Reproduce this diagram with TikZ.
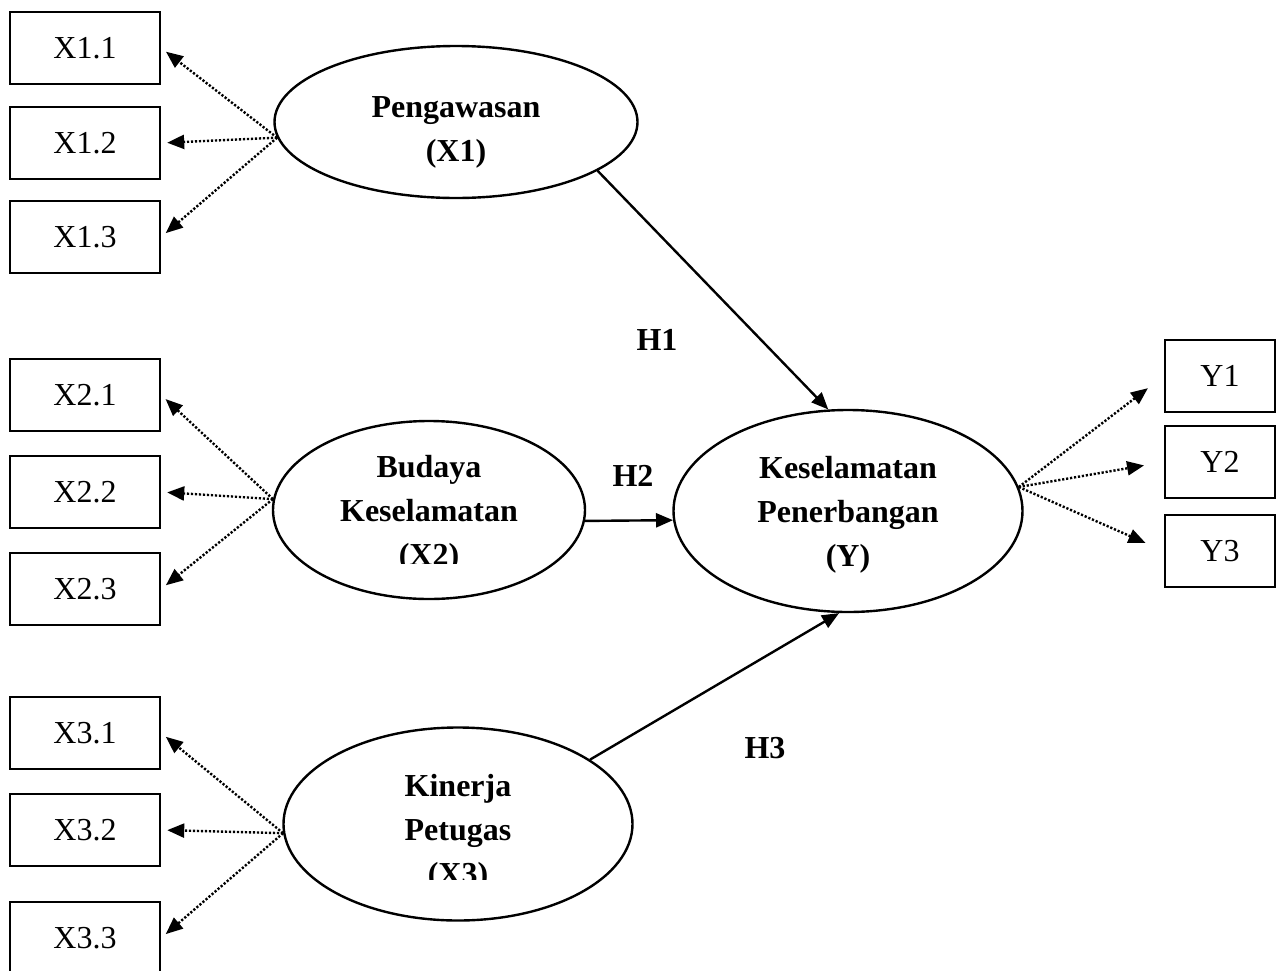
\documentclass[tikz,border=0pt]{standalone}
\usepackage{fontspec}
\setmainfont{Liberation Serif}
\usetikzlibrary{arrows.meta,shapes.geometric}

\tikzset{
    indicator/.style={draw, line width=1.2pt, minimum width=75pt, minimum height=36pt,
        inner sep=0pt, font=\fontsize{16}{19}\selectfont},
    latent/.style={draw, ellipse, line width=1.2pt, inner sep=0pt},
    lattext/.style={align=center, font=\fontsize{16}{22}\selectfont\bfseries},
    hyp/.style={font=\fontsize{16}{19}\selectfont\bfseries},
    effect/.style={-{Triangle[length=8.5pt,width=7pt]}, line width=1.2pt},
    loading/.style={-{Triangle[length=8.5pt,width=7pt]}, line width=1.2pt,
        dash pattern=on 1.1pt off 0.9pt, shorten >=3pt},
}

\begin{document}
\begin{tikzpicture}[x=0.5pt,y=-0.5pt]
        \useasboundingbox (0,0) rectangle (1280,970);

        % indicators
        \foreach \i/\y in {1/48,2/143,3/237}
            \node[indicator] (x1\i) at (85,\y) {X1.\i};
        \foreach \i/\y in {1/395,2/492,3/589}
            \node[indicator] (x2\i) at (85,\y) {X2.\i};
        \foreach \i/\y in {1/733,2/830,3/938}
            \node[indicator] (x3\i) at (85,\y) {X3.\i};
        \foreach \i/\y in {1/376,2/462,3/551}
            \node[indicator, minimum width=55pt] (y\i) at (1220,\y) {Y\i};

        % latent variables
        \node[latent, minimum width=181.5pt, minimum height=76pt] (peng) at (456,122) {};
        \node[latent, minimum width=156pt, minimum height=89pt] (bud) at (429,510) {};
        \node[latent, minimum width=174.5pt, minimum height=96.5pt] (kin) at (458,824) {};
        \node[latent, minimum width=174.5pt, minimum height=101pt] (kes) at (848,511) {};

        \node[lattext] (peng-t) at (456,132) {Pengawasan\\(X1)};
        \begin{scope}
            \clip (273,421) rectangle (585,563);
            \node[lattext] (bud-t) at (429,514) {Budaya\\Keselamatan\\(X2)};
        \end{scope}
        \begin{scope}
            \clip (283,727) rectangle (632,879);
            \node[lattext] (kin-t) at (458,833) {Kinerja\\Petugas\\(X3)};
        \end{scope}
        \node[lattext] (kes-t) at (848,515) {Keselamatan\\Penerbangan\\(Y)};

        % loadings
        \foreach \i in {1,2,3} {
            \draw[loading] (peng.185) -- (x1\i.east);
            \draw[loading] (bud.176) -- (x2\i.east);
            \draw[loading] (kin.183) -- (x3\i.east);
            \draw[loading, shorten >=10pt] (kes.8) -- (y\i.west);
        }

        % hypotheses
        \draw[effect] (peng.-19) -- (kes.101);
        \draw[effect] (bud.-4) -- (kes.183.6);
        \draw[effect] (kin.26) -- (kes.265);
        \node[hyp] (h1) at (657,340) {H1};
        \node[hyp] (h2) at (633,476) {H2};
        \node[hyp] (h3) at (765,748) {H3};
\end{tikzpicture}
\end{document}
